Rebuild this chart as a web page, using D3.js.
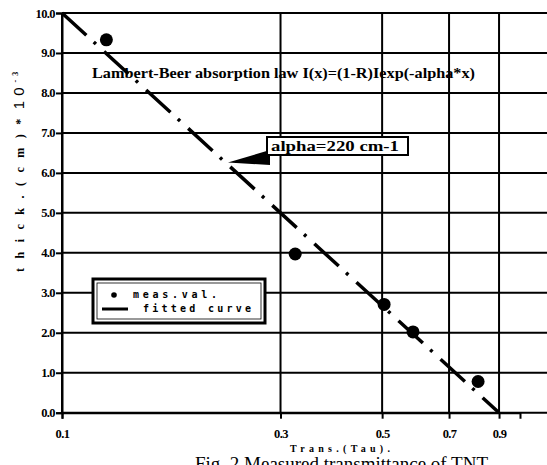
<!DOCTYPE html>
<html><head><meta charset="utf-8">
<script src="https://cdn.jsdelivr.net/npm/d3@7"></script>
<style>
html,body{margin:0;padding:0;background:#fff;}
svg{display:block;}
</style></head>
<body>
<script>
// ---- data ----
const xTicks = [0.1, 0.3, 0.5, 0.7, 0.9];
const yTicks = [0,1,2,3,4,5,6,7,8,9,10];
const measX = [0.125, 0.323, 0.505, 0.584, 0.81];
const measY = [9.33, 3.97, 2.71, 2.02, 0.78];
const fitX = [0.1, 0.9];
const fitY = [10, 0];
const titleText = "Lambert-Beer absorption law I(x)=(1-R)Iexp(-alpha*x)";
const alphaText = "alpha=220 cm-1";
const legendLabels = ["meas.val.", "fitted curve"];
const xTitle = "Trans.(Tau).";
const captionText = "Fig. 2 Measured transmittance of TNT";

// ---- layout ----
const W = 547, H = 465;
const pLeft = 62, pRight = 547, pTop = 13, pBottom = 412.7;
const serif = "'Liberation Serif','Times New Roman',serif";

const svg = d3.select("body").append("svg").attr("width", W).attr("height", H);

const x = d3.scaleLog().domain([0.1, 1]).range([pLeft, pLeft + 458]);
const y = d3.scaleLinear().domain([0, 10]).range([pBottom, pTop]);

// grid
const g = svg.append("g");
g.selectAll("line.h").data(yTicks).join("line")
  .attr("x1", pLeft).attr("x2", pRight)
  .attr("y1", d => y(d)).attr("y2", d => y(d))
  .attr("stroke", "#000").attr("stroke-width", 2);
g.selectAll("line.v").data(xTicks).join("line")
  .attr("x1", d => x(d)).attr("x2", d => x(d))
  .attr("y1", pTop).attr("y2", pBottom)
  .attr("stroke", "#000").attr("stroke-width", 2);

// axes
const yAxis = d3.axisLeft(y).tickValues(yTicks).tickFormat(d3.format(".1f")).tickSize(6).tickPadding(1);
const ya = svg.append("g").attr("transform", `translate(${pLeft},0)`).call(yAxis);
const xAxis = d3.axisBottom(x).tickValues(xTicks).tickFormat(d3.format(".1f")).tickSize(6).tickPadding(10);
const xa = svg.append("g").attr("transform", `translate(0,${pBottom})`).call(xAxis);
[ya, xa].forEach(a => {
  a.select(".domain").attr("stroke", "#000").attr("stroke-width", 2);
  a.selectAll(".tick line").attr("stroke", "#000").attr("stroke-width", 2);
  a.selectAll(".tick text").attr("fill", "#000")
    .style("font-family", serif).style("font-weight", "bold").style("font-size", "12.5px")
    .style("letter-spacing", "-0.6px");
});

// title annotation
svg.append("text").attr("x", 92).attr("y", 78)
  .attr("textLength", 383).attr("lengthAdjust", "spacingAndGlyphs")
  .style("font-family", serif).style("font-weight", "bold").style("font-size", "14px")
  .text(titleText);

// fitted line
const line = d3.line().x(d => x(d[0])).y(d => y(d[1]));
svg.append("path").datum(fitX.map((v, i) => [v, fitY[i]]))
  .attr("d", line).attr("fill", "none").attr("stroke", "#000")
  .attr("stroke-width", 3.5).attr("stroke-dasharray", "33,10,3,11");

// measured points
svg.selectAll("circle.m").data(measX.map((v, i) => [v, measY[i]])).join("circle")
  .attr("cx", d => x(d[0])).attr("cy", d => y(d[1])).attr("r", 6.5).attr("fill", "#000");

// alpha annotation box + arrow
svg.append("polygon").attr("points", "228,162.5 270,150 270,165").attr("fill", "#000");
svg.append("rect").attr("x", 267).attr("y", 137).attr("width", 141).attr("height", 18)
  .attr("fill", "#fff").attr("stroke", "#000").attr("stroke-width", 2);
svg.append("text").attr("x", 271).attr("y", 151)
  .attr("textLength", 128).attr("lengthAdjust", "spacingAndGlyphs")
  .style("font-family", serif).style("font-weight", "bold").style("font-size", "14.5px")
  .text(alphaText);

// legend
const lg = svg.append("g");
lg.append("rect").attr("x", 93).attr("y", 279).attr("width", 172).attr("height", 44)
  .attr("fill", "#fff").attr("stroke", "#000").attr("stroke-width", 3);
lg.append("rect").attr("x", 97).attr("y", 283).attr("width", 164).attr("height", 36)
  .attr("fill", "none").attr("stroke", "#000").attr("stroke-width", 0.8);
lg.append("circle").attr("cx", 114).attr("cy", 295).attr("r", 2.8).attr("fill", "#000");
lg.append("line").attr("x1", 102).attr("x2", 128).attr("y1", 309).attr("y2", 309)
  .attr("stroke", "#000").attr("stroke-width", 3);
const lgText = [[133, 298, 84], [143, 312, 108]];
lg.selectAll("text").data(legendLabels).join("text")
  .attr("x", (d, i) => lgText[i][0]).attr("y", (d, i) => lgText[i][1])
  .attr("textLength", (d, i) => lgText[i][2]).attr("lengthAdjust", "spacing")
  .style("font-family", "'DejaVu Sans Mono',monospace").style("font-weight", "bold").style("font-size", "10px")
  .text(d => d);

// y axis title
const yt = svg.append("text").attr("transform", "translate(24,272) rotate(-90)")
  .style("font-family", serif).style("font-weight", "bold").style("font-size", "12px")
  .style("letter-spacing", "9.5px");
yt.append("tspan").text("thick.(cm)*");
yt.append("tspan").style("font-family", "'Liberation Sans',Arial,sans-serif").style("font-weight", "normal")
  .style("font-size", "15px").style("letter-spacing", "5px").text("10");
yt.append("tspan").attr("dy", -6).style("font-size", "8px").style("letter-spacing", "4px").text("-3");

// x axis title
svg.append("text").attr("x", 290).attr("y", 452)
  .attr("textLength", 100).attr("lengthAdjust", "spacing")
  .style("font-family", serif).style("font-weight", "bold").style("font-size", "10px")
  .text(xTitle);

// caption (partially cut at the bottom, as in the source)
svg.append("text").attr("x", 195).attr("y", 470)
  .style("font-family", serif).style("font-size", "19px")
  .text(captionText);
</script>
</body></html>
